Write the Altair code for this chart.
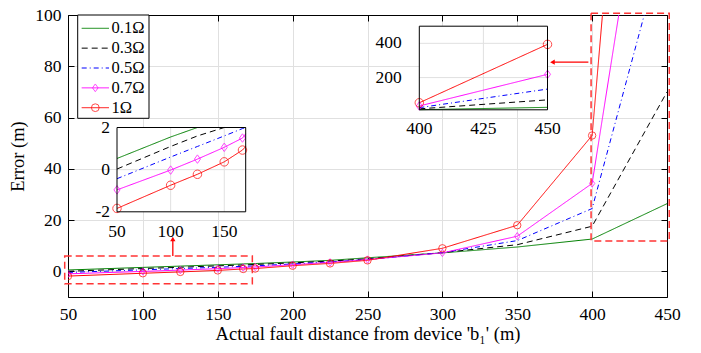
import altair as alt
import pandas as pd

# ---------------- data ----------------
series = ["0.1Ω", "0.3Ω", "0.5Ω", "0.7Ω", "1Ω"]
colors = ["#008000", "#000000", "#0000ff", "#ff00ff", "#ff0000"]
dashes = [[1, 0], [6, 4], [5, 3, 1, 3], [1, 0], [1, 0]]
marker_series = ["0.7Ω", "1Ω"]
diamond_path = "M0,-1L0.72,0L0,1L-0.72,0Z"

distance = [50, 100, 125, 150, 167, 175, 200, 225, 250, 300, 350, 400, 450]
err_01 = [0.53, 1.55, 2.05, 2.55, 2.9, 3.05, 3.65, 4.3, 5.3, 7.2, 9.5, 12.6, 26.4]
err_03 = [0.03, 1.1, 1.6, 2.15, 2.5, 2.7, 3.3, 4.0, 4.9, 7.3, 10.4, 17.6, 70.0]
err_05 = [-0.43, 0.6, 1.1, 1.6, 1.95, 2.15, 2.9, 3.7, 4.6, 7.3, 12.0, 24.5, 133.0]
err_07 = [-0.96, -0.02, 0.5, 1.06, 1.5, 1.7, 2.6, 3.5, 4.6, 7.2, 13.7, 34.3, 219.0]
err_1 = [-1.84, -0.74, -0.22, 0.37, 0.93, 1.1, 2.2, 3.1, 4.3, 9.0, 18.0, 53.0, 394.0]

x_ticks = [50, 100, 150, 200, 250, 300, 350, 400, 450]
y_ticks = [0, 20, 40, 60, 80, 100]
x_domain = [50, 450]
y_domain = [-10, 100]

inset1_x_domain = [50, 170]
inset1_y_domain = [-2, 2]
inset1_x_ticks = [50, 100, 150]
inset1_y_ticks = [-2, 0, 2]
inset1_x_grid = [100, 150]
inset1_y_grid = [0]

inset2_x_domain = [400, 450]
inset2_y_domain = [12, 500]
inset2_x_ticks = [400, 425, 450]
inset2_y_ticks = [200, 400]
inset2_x_grid = [425]
inset2_y_grid = [200, 400]

# zoom boxes (data coordinates) and arrows
box_x0 = [47.8, 399.3]
box_x1 = [173.1, 451.5]
box_y0 = [-4.8, 11.8]
box_y1 = [6.0, 100.7]
arrow_x0 = [120, 374.5]
arrow_x1 = [120, 397.5]
arrow_y0 = [6.0, 81.6]
arrow_y1 = [12.0, 81.6]
head_x = [120, 373.5]
head_y = [12.6, 81.6]
head_shape = ["triangle-up", "triangle-left"]

# ---------------- layout constants ----------------
W, H = 599, 282
FONT = "Liberation Serif"
GRID = "#e0e0e0"
LABEL_SIZE = 17.5
TITLE_SIZE = 18.5

rows = []
for s, vals in zip(series, [err_01, err_03, err_05, err_07, err_1]):
    for x, y in zip(distance, vals):
        rows.append({"series": s, "x": x, "y": y})
df = pd.DataFrame(rows)
df_mk = df[df.series.isin(marker_series)]

color = alt.Color("series:N", scale=alt.Scale(domain=series, range=colors), legend=None)
dash = alt.StrokeDash("series:N", scale=alt.Scale(domain=series, range=dashes), legend=None)
shape = alt.Shape("series:N", scale=alt.Scale(domain=marker_series, range=[diamond_path, "circle"]), legend=None)

XM = alt.Scale(domain=x_domain, nice=False, zero=False)
YM = alt.Scale(domain=y_domain, nice=False, zero=False)

# ---------------- main plot ----------------
main_lines = alt.Chart(df).mark_line(clip=True, strokeWidth=1).encode(
    x=alt.X("x:Q", scale=XM, axis=alt.Axis(
        values=x_ticks, tickSize=0, labelPadding=8, domainColor="black", grid=True,
        gridColor=GRID, title="Actual fault distance from device 'b₁' (m)", titlePadding=2,
        labelOverlap=False, labelFlush=False)),
    y=alt.Y("y:Q", scale=YM, axis=alt.Axis(
        values=y_ticks, tickSize=0, labelPadding=7, domainColor="black", grid=True,
        gridColor=GRID, title="Error (m)", titlePadding=7, labelOverlap=False, labelFlush=False)),
    color=color, strokeDash=dash,
)
main_pts = alt.Chart(df_mk).mark_point(clip=True, filled=False, size=55, strokeWidth=1).encode(
    x=alt.X("x:Q", scale=XM, axis=None), y=alt.Y("y:Q", scale=YM, axis=None),
    color=color, shape=shape,
)
ticks_a = alt.Chart(df).mark_point(opacity=0).encode(
    x=alt.X("x:Q", scale=XM, axis=alt.Axis(orient="top", offset=-H, values=x_ticks, labels=False,
                                            tickSize=6, tickColor="black", domain=False, grid=False, title=None)),
    y=alt.Y("y:Q", scale=YM, axis=alt.Axis(orient="right", offset=-W, values=y_ticks, labels=False,
                                            tickSize=6, tickColor="black", domain=False, grid=False, title=None)),
)
ticks_b = alt.Chart(df).mark_point(opacity=0).encode(
    x=alt.X("x:Q", scale=XM, axis=alt.Axis(orient="bottom", offset=-H, values=x_ticks, labels=False,
                                            tickSize=6, tickColor="black", domainColor="black",
                                            grid=False, title=None)),
    y=alt.Y("y:Q", scale=YM, axis=alt.Axis(orient="left", offset=-W, values=y_ticks, labels=False,
                                            tickSize=6, tickColor="black", domainColor="black",
                                            grid=False, title=None)),
)
df_box = pd.DataFrame({"x0": box_x0, "x1": box_x1, "y0": box_y0, "y1": box_y1})
boxes = alt.Chart(df_box).mark_rect(clip=False, fillOpacity=0, stroke="#ff3535", strokeWidth=1.5,
                                    strokeDash=[7, 4]).encode(
    x=alt.X("x0:Q", scale=XM, axis=None), x2="x1:Q",
    y=alt.Y("y0:Q", scale=YM, axis=None), y2="y1:Q",
)
df_arrow = pd.DataFrame({"x0": arrow_x0, "x1": arrow_x1, "y0": arrow_y0, "y1": arrow_y1})
arrows = alt.Chart(df_arrow).mark_rule(clip=False, color="#ff0000", strokeWidth=1.3).encode(
    x=alt.X("x0:Q", scale=XM, axis=None), x2="x1:Q",
    y=alt.Y("y0:Q", scale=YM, axis=None), y2="y1:Q",
)
df_head = pd.DataFrame({"x": head_x, "y": head_y, "shape": head_shape})
heads = alt.Chart(df_head).mark_point(clip=False, filled=True, color="#ff0000", opacity=1, size=28).encode(
    x=alt.X("x:Q", scale=XM, axis=None), y=alt.Y("y:Q", scale=YM, axis=None),
    shape=alt.Shape("shape:N", scale=None, legend=None),
)
main_group = alt.layer(main_lines, main_pts, ticks_a, ticks_b, boxes, arrows, heads).resolve_axis(
    x="independent", y="independent")


# ---------------- insets ----------------
def inset(xdom, ydom, xrange, yrange, xt, yt, xg, yg, data, xlab_base, ylab_right):
    XS = alt.Scale(domain=xdom, range=xrange, clamp=True, nice=False, zero=False)
    YS = alt.Scale(domain=ydom, range=yrange, clamp=True, nice=False, zero=False)
    frame = pd.DataFrame({"x0": [xdom[0]], "x1": [xdom[1]], "y0": [ydom[0]], "y1": [ydom[1]]})
    bg = alt.Chart(frame).mark_rect(fill="white", strokeWidth=0).encode(
        x=alt.X("x0:Q", scale=XS, axis=None), x2="x1:Q",
        y=alt.Y("y0:Q", scale=YS, axis=None), y2="y1:Q",
    )
    gx = alt.Chart(pd.DataFrame({"g": xg, "y0": ydom[0], "y1": ydom[1]})).mark_rule(
        color=GRID, strokeWidth=1).encode(
        x=alt.X("g:Q", scale=XS, axis=None), y=alt.Y("y0:Q", scale=YS, axis=None), y2="y1:Q")
    gy = alt.Chart(pd.DataFrame({"g": yg, "x0": xdom[0], "x1": xdom[1]})).mark_rule(
        color=GRID, strokeWidth=1).encode(
        y=alt.Y("g:Q", scale=YS, axis=None), x=alt.X("x0:Q", scale=XS, axis=None), x2="x1:Q")
    lines = alt.Chart(data).mark_line(strokeWidth=1).encode(
        x=alt.X("x:Q", scale=XS, axis=None), y=alt.Y("y:Q", scale=YS, axis=None),
        color=color, strokeDash=dash)
    mk = data[data.series.isin(marker_series) & (data.x >= xdom[0]) & (data.x <= xdom[1])]
    pts = alt.Chart(mk).mark_point(filled=False, size=72, strokeWidth=1).encode(
        x=alt.X("x:Q", scale=XS, axis=None), y=alt.Y("y:Q", scale=YS, axis=None),
        color=color, shape=shape)
    fr = alt.Chart(frame).mark_rect(fillOpacity=0, stroke="black", strokeWidth=1).encode(
        x=alt.X("x0:Q", scale=XS, axis=None), x2="x1:Q",
        y=alt.Y("y0:Q", scale=YS, axis=None), y2="y1:Q")
    xl = alt.Chart(pd.DataFrame({"v": xt, "t": [str(v) for v in xt]})).mark_text(
        font=FONT, fontSize=LABEL_SIZE, color="black", align="center", baseline="alphabetic").encode(
        x=alt.X("v:Q", scale=XS, axis=None), y=alt.value(xlab_base), text="t:N")
    yl = alt.Chart(pd.DataFrame({"v": yt, "t": [str(v) for v in yt]})).mark_text(
        font=FONT, fontSize=LABEL_SIZE, color="black", align="right", baseline="middle").encode(
        y=alt.Y("v:Q", scale=YS, axis=None), x=alt.value(ylab_right), text="t:N")
    return alt.layer(bg, gx, gy, lines, pts, fr, xl, yl)


in1_range_x = [49, 177.7]
in1_range_y = [196.8, 112.5]
in2_range_x = [351.3, 479.5]
in2_range_y = [94.8, 11.2]

inset1 = inset(inset1_x_domain, inset1_y_domain, in1_range_x, in1_range_y,
               inset1_x_ticks, inset1_y_ticks, inset1_x_grid, inset1_y_grid,
               df[df.x <= 175], 221.7, 42)
inset2 = inset(inset2_x_domain, inset2_y_domain, in2_range_x, in2_range_y,
               inset2_x_ticks, inset2_y_ticks, inset2_x_grid, inset2_y_grid,
               df[df.x >= 400], 119, 333.7)

# ---------------- legend ----------------
LY = alt.Scale(type="point", domain=series, range=[13.3, 92.7], padding=0)
leg_df = pd.DataFrame({"series": series})
leg_box = alt.Chart(pd.DataFrame({"a": [0]})).mark_rect(fill="white", stroke="black", strokeWidth=1).encode(
    x=alt.value(9.7), x2=alt.value(81), y=alt.value(0), y2=alt.value(103.3))
leg_lines = alt.Chart(leg_df).mark_rule(strokeWidth=1).encode(
    x=alt.value(13.7), x2=alt.value(41), y=alt.Y("series:N", scale=LY, axis=None),
    color=color, strokeDash=dash)
leg_pts = alt.Chart(leg_df[leg_df.series.isin(marker_series)]).mark_point(
    filled=False, size=60, strokeWidth=1).encode(
    x=alt.value(27.3), y=alt.Y("series:N", scale=LY, axis=None), color=color, shape=shape)
leg_txt = alt.Chart(leg_df).mark_text(align="left", baseline="middle", font=FONT, fontSize=16.5,
                                      color="black").encode(
    x=alt.value(43.5), y=alt.Y("series:N", scale=LY, axis=None), text="series:N")
legend = alt.layer(leg_box, leg_lines, leg_pts, leg_txt)

chart = alt.layer(main_group, inset1, inset2, legend).resolve_scale(
    x="independent", y="independent"
).properties(
    width=W, height=H,
    autosize=alt.AutoSizeParams(type="none"),
    padding={"left": 60, "top": 7, "right": 26, "bottom": 48},
).configure_view(stroke=None).configure_axis(
    labelFont=FONT, titleFont=FONT, labelFontSize=LABEL_SIZE, titleFontSize=TITLE_SIZE,
    labelColor="black", titleColor="black", titleFontWeight="normal",
)

chart.save("out.html", embed_options={"renderer": "svg", "actions": False})
